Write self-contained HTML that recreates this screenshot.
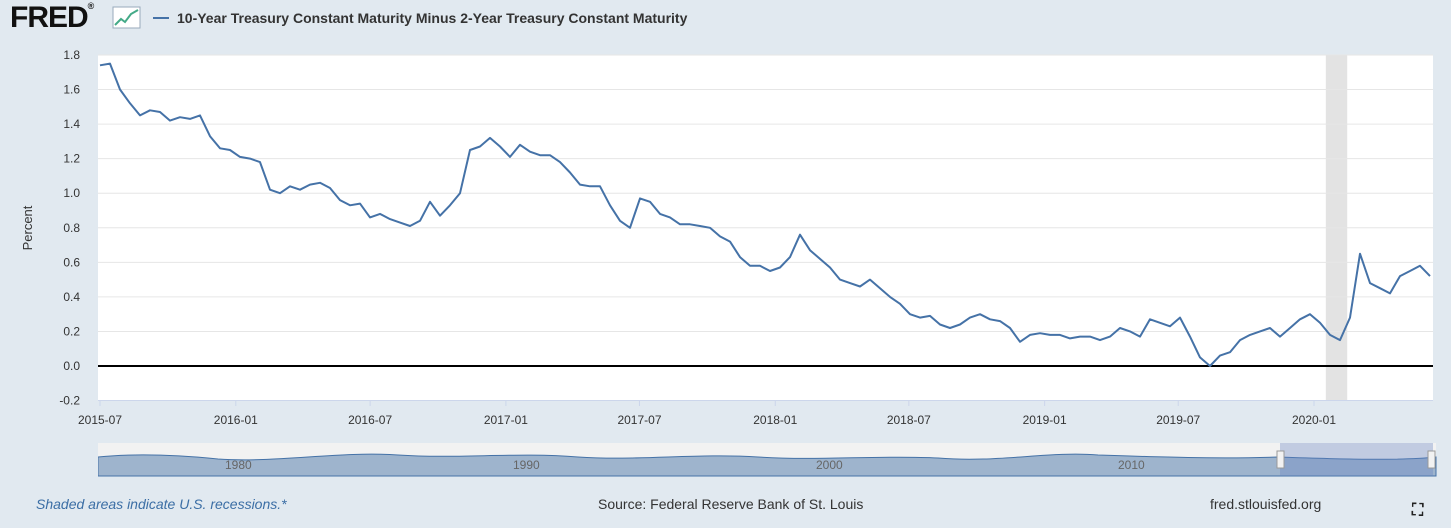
<!DOCTYPE html>
<html><head><meta charset="utf-8"><style>
body{margin:0;width:1451px;height:528px;background:#e1e9f0;font-family:"Liberation Sans",sans-serif;overflow:hidden;position:relative}
.t{position:absolute;white-space:nowrap}
</style></head><body>
<div class="t" style="left:10px;top:1px;font-size:30px;font-weight:bold;color:#111;letter-spacing:-1px">FRED<span style="font-size:9px;vertical-align:top">®</span></div>
<svg style="position:absolute;left:112px;top:6px" width="30" height="24"><rect x="1" y="1" width="27" height="21" fill="#fff" stroke="#9ab"/><polyline points="3,19 9,13 13,16 19,8 26,4" fill="none" stroke="#4a8" stroke-width="2"/></svg>
<div style="position:absolute;left:153px;top:17px;width:16px;height:2px;background:#4572a7"></div>
<div class="t" style="left:177px;top:10px;font-size:14px;font-weight:bold;color:#333">10-Year Treasury Constant Maturity Minus 2-Year Treasury Constant Maturity</div>
<svg id="chart" style="position:absolute;left:0;top:0" width="1451" height="440"></svg>
<svg style="position:absolute;left:98px;top:443px" width="1340" height="34">
<rect width="1338" height="33" fill="#f2f2f2"/>
<path d="M0,14 C40,10 80,12 120,16 C180,20 240,8 300,12 C360,16 420,9 480,14 C540,18 600,10 660,14 C720,18 780,12 840,15 C900,20 950,8 1000,12 C1060,14 1120,16 1180,14 C1240,16 1300,18 1338,14 L1338,33 L0,33Z" fill="#9eb4cd" stroke="#4572a7"/>
<rect x="1182" y="0" width="153" height="33" fill="rgba(102,133,194,0.35)"/>
<rect x="1179" y="8" width="7" height="17" fill="#f2f2f2" stroke="#999"/>
<rect x="1330" y="8" width="7" height="17" fill="#f2f2f2" stroke="#999"/>
<text x="127" y="26" font-size="12" fill="#666">1980</text><text x="415" y="26" font-size="12" fill="#666">1990</text><text x="718" y="26" font-size="12" fill="#666">2000</text><text x="1020" y="26" font-size="12" fill="#666">2010</text>
</svg>
<div class="t" style="left:36px;top:496px;font-size:14px;font-style:italic;color:#3b6ea5">Shaded areas indicate U.S. recessions.*</div>
<div class="t" style="left:598px;top:496px;font-size:14px;color:#333">Source: Federal Reserve Bank of St. Louis</div>
<div class="t" style="left:1210px;top:496px;font-size:14px;color:#333">fred.stlouisfed.org</div>
<div class="t" style="left:1412px;top:502px;font-size:16px;font-weight:bold;color:#222">⛶</div>
<script>
const startDate = "2015-07-01";
const stepDays = 13.55;
const values = [1.74,1.75,1.60,1.52,1.45,1.48,1.47,1.42,1.44,1.43,1.45,1.33,1.26,1.25,1.21,1.20,1.18,1.02,1.00,1.04,1.02,1.05,1.06,1.03,0.96,0.93,0.94,0.86,0.88,0.85,0.83,0.81,0.84,0.95,0.87,0.93,1.00,1.25,1.27,1.32,1.27,1.21,1.28,1.24,1.22,1.22,1.18,1.12,1.05,1.04,1.04,0.93,0.84,0.80,0.97,0.95,0.88,0.86,0.82,0.82,0.81,0.80,0.75,0.72,0.63,0.58,0.58,0.55,0.57,0.63,0.76,0.67,0.62,0.57,0.50,0.48,0.46,0.50,0.45,0.40,0.36,0.30,0.28,0.29,0.24,0.22,0.24,0.28,0.30,0.27,0.26,0.22,0.14,0.18,0.19,0.18,0.18,0.16,0.17,0.17,0.15,0.17,0.22,0.20,0.17,0.27,0.25,0.23,0.28,0.17,0.05,0.00,0.06,0.08,0.15,0.18,0.20,0.22,0.17,0.22,0.27,0.30,0.25,0.18,0.15,0.28,0.65,0.48,0.45,0.42,0.52,0.55,0.58,0.52];
const yTicks = [-0.2,0,0.2,0.4,0.6,0.8,1.0,1.2,1.4,1.6,1.8];
const xTickLabels = ["2015-07","2016-01","2016-07","2017-01","2017-07","2018-01","2018-07","2019-01","2019-07","2020-01"];
const recession = ["2020-01-17","2020-02-15"];
const NS="http://www.w3.org/2000/svg", svg=document.getElementById('chart');
const L=98,R=1433,T=55,B=400;
const t0=Date.parse(startDate), dayMs=864e5, pxPerDay=0.738;
const xd=d=>100+(Date.parse(d)-t0)/dayMs*pxPerDay;
const xi=i=>100+i*stepDays*pxPerDay;
const y=v=>366-v*172.8;
function mk(tag,a){const e=document.createElementNS(NS,tag);for(const k in a)e.setAttribute(k,a[k]);svg.appendChild(e);return e;}
const bg=mk('rect',{x:L,y:T,width:R-L,height:B-T,fill:'#fff'});


const rec=mk('rect',{x:xd(recession[0]),y:T,width:xd(recession[1])-xd(recession[0]),height:B-T,fill:'#e3e3e3'});


yTicks.forEach(v=>{
  const g=mk('line',{x1:L,x2:R,y1:y(v),y2:y(v),stroke:v===0?'#000':'#e6e6e6','stroke-width':v===0?2:1});
  
  
  const tx=mk('text',{x:80,y:y(v)+4,'text-anchor':'end','font-size':12,fill:'#333'});
  tx.textContent=v.toFixed(1);
  
  
});
xTickLabels.forEach(s=>{
  const x=xd(s+"-01");
  mk('line',{x1:x,x2:x,y1:B,y2:B+6,stroke:'#ccd6eb'});
  const tx=mk('text',{x:x,y:424,'text-anchor':'middle','font-size':12,fill:'#333'});
  tx.textContent=s;
  
  
});
mk('line',{x1:L,x2:R,y1:B+0.5,y2:B+0.5,stroke:'#ccd6eb'});
const yt=mk('text',{x:32,y:228,'text-anchor':'middle','font-size':13,fill:'#333',transform:'rotate(-90 32 228)'});
yt.textContent='Percent';


const line=mk('polyline',{points:values.map((v,i)=>xi(i).toFixed(1)+','+y(v).toFixed(1)).join(' '),fill:'none',stroke:'#4572a7','stroke-width':2,'stroke-linejoin':'round'});


</script>
</body></html>
